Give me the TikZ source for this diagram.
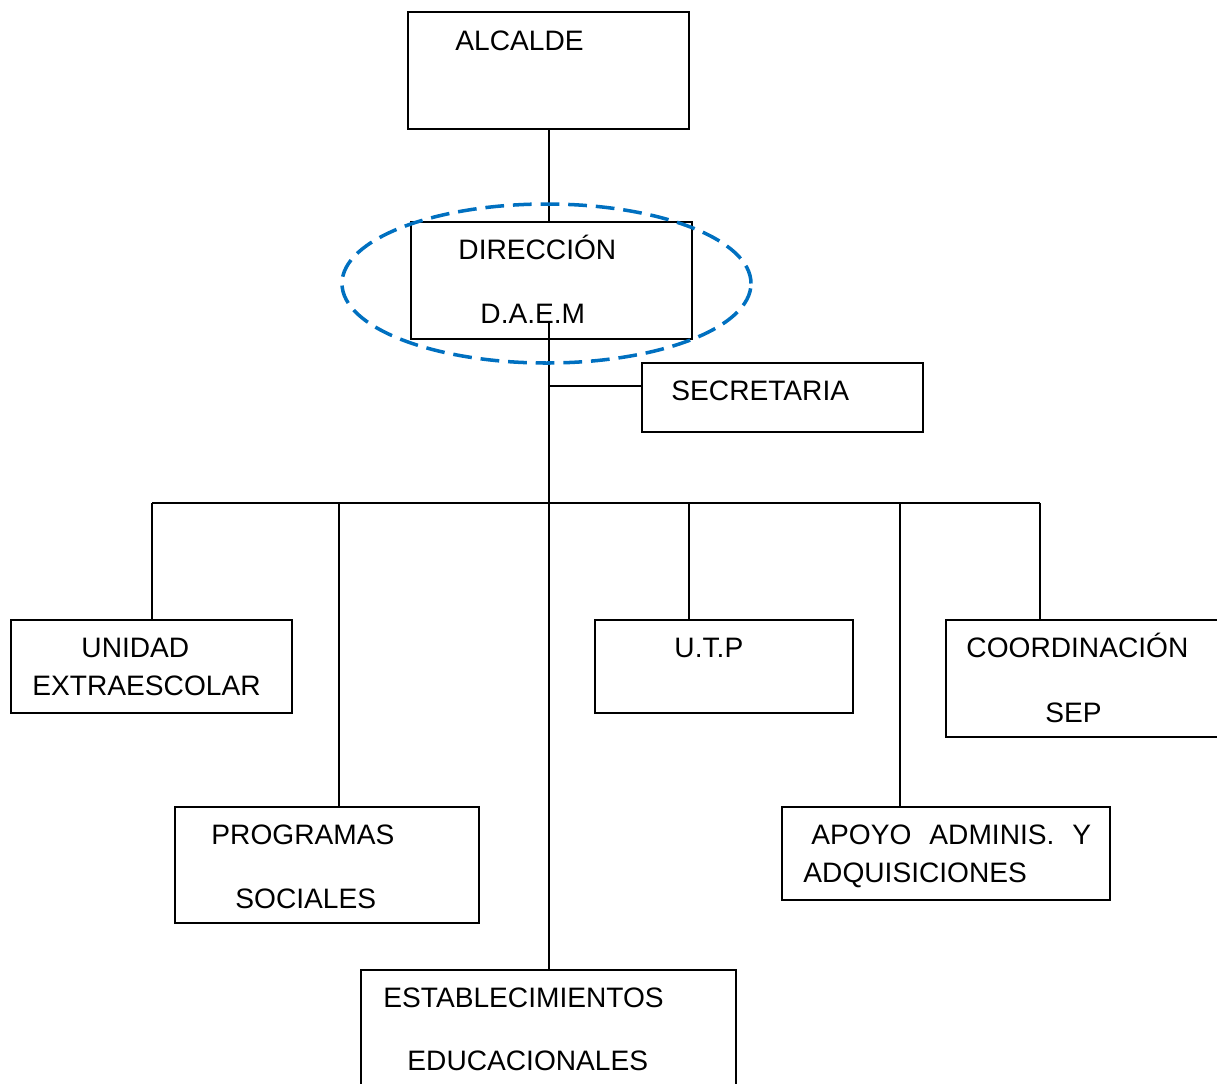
\documentclass[tikz,border=0pt]{standalone}
\usepackage{fontspec}
\setmainfont{Liberation Sans}
\usetikzlibrary{shapes.geometric,calc}
\definecolor{daemblue}{HTML}{0070C0}

\begin{document}
\begin{tikzpicture}[x=0.015cm,y=-0.015cm,
    box/.style 2 args={draw,line width=0.8pt,inner sep=0pt,
      minimum width=#1*0.015cm,minimum height=#2*0.015cm},
    lbl/.style={anchor=base west,inner sep=0pt,font=\fontsize{12}{14}\selectfont},
    wire/.style={line width=0.8pt},
    ring/.style={ellipse,draw=daemblue,line width=1.5pt,dash pattern=on 8pt off 3.8pt,
      inner sep=0pt,minimum width=409*0.015cm,minimum height=159*0.015cm}]
  \useasboundingbox (0,0) rectangle (1217,1083);

  % boxes
  \node (alcalde) at (548.5,70.5) [box={281}{117}]{};
  \node (direccion) at (551.5,280.5) [box={281}{117}]{};
  \node (secretaria) at (782.5,397.5) [box={281}{69}]{};
  \node (unidad) at (151.5,666.5) [box={281}{93}]{};
  \node (programas) at (327,865) [box={304}{116}]{};
  \node (establec) at (548.5,1031) [box={375}{122}]{};
  \node (utp) at (724,666.5) [box={258}{93}]{};
  \node (coord) at (1086.5,678.5) [box={281}{117}]{};
  \node (apoyo) at (946,853.5) [box={328}{93}]{};

  % texts
  \node (alcaldetxt) at (455,50) [lbl]{ALCALDE};
  \node (direcciontxt) at (458,259) [lbl]{DIRECCIÓN};
  \node (daemtxt) at (480,323) [lbl]{D.A.E.M};
  \node (secretariatxt) at (671,400) [lbl]{SECRETARIA};
  \node (unidadtxt) at (81,657) [lbl]{UNIDAD};
  \node (extratxt) at (32,695) [lbl]{EXTRAESCOLAR};
  \node (programastxt) at (211,844) [lbl]{PROGRAMAS};
  \node (socialestxt) at (235,908) [lbl]{SOCIALES};
  \node (establectxt) at (383,1007) [lbl]{ESTABLECIMIENTOS};
  \node (educaciontxt) at (407,1070) [lbl]{EDUCACIONALES};
  \node (utptxt) at (674,657) [lbl]{U.T.P};
  \node (coordtxt) at (966,657) [lbl]{COORDINACIÓN};
  \node (septxt) at (1045,722) [lbl]{SEP};
  \node (apoyotxt) at (811,844) [lbl]{APOYO\hspace{.64em}ADMINIS.\hspace{.64em}Y};
  \node (adquitxt) at (803,882) [lbl]{ADQUISICIONES};

  % connectors
  \coordinate (stem) at (549,322);
  \coordinate (secjoin) at ($(secretaria.north west)!1/3!(secretaria.south west)$);
  \coordinate (busleft) at (152,503);
  \coordinate (busright) at (1040,503);

  \draw[wire] (stem |- alcalde.south) -- (stem |- direccion.north);
  \draw[wire] (stem) -- (stem |- establec.north);
  \draw[wire] (stem |- secjoin) -- (secjoin);
  \draw[wire] (busleft) -- (busright);
  \foreach \dx/\unit in {152/unidad,339/programas,689/utp,900/apoyo,1040/coord}{
    \coordinate (drop) at (\dx,503);
    \draw[wire] (drop) -- (drop |- \unit.north);
  }

  \node (daemring) at (546.5,283.5) [ring]{};
\end{tikzpicture}
\end{document}
